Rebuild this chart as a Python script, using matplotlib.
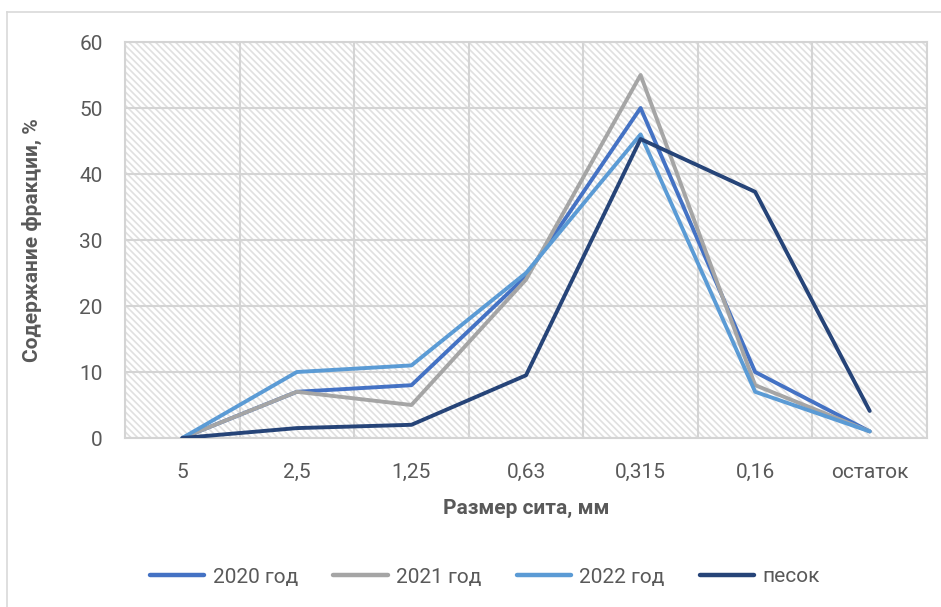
import matplotlib
matplotlib.use("Agg")
import matplotlib.pyplot as plt
from matplotlib.lines import Line2D

plt.rcParams["font.family"] = ["Roboto", "DejaVu Sans"]
plt.rcParams["hatch.linewidth"] = 1.2
plt.rcParams["hatch.color"] = "#E0E0E0"

# sieve sizes and fraction content, %
sieves = ["5", "2,5", "1,25", "0,63", "0,315", "0,16", "остаток"]
y2020 = [0, 7, 8, 24.5, 50, 10, 1]
y2021 = [0, 7, 5, 24, 55, 8, 1]
y2022 = [0, 10, 11, 25, 46, 7, 1]
sand = [0, 1.5, 2, 9.5, 45.3, 37.3, 4.1]

series = [
    ("2020 год", y2020, "#4472C4"),
    ("2021 год", y2021, "#A5A5A5"),
    ("2022 год", y2022, "#5B9BD5"),
    ("песок", sand, "#264478"),
]

TXT = "#595959"
GRID = "#D4D4D4"
W, H = 941, 607

fig = plt.figure(figsize=(W / 100, H / 100), dpi=100)
ax = fig.add_axes([125 / W, 1 - 438 / H, (927 - 125) / W, (438 - 42) / H])

# hatched plot area
ax.patch.set_facecolor("white")
ax.patch.set_hatch("\\" * 5)
ax.patch.set_edgecolor("#E0E0E0")

x = list(range(len(sieves)))
for name, vals, col in series:
    ax.plot(x, vals, color=col, lw=2.8, label=name,
            solid_capstyle="round", solid_joinstyle="round", zorder=3)

ax.set_xlim(-0.5, len(sieves) - 0.5)
ax.set_ylim(0, 60)
ax.set_yticks(range(0, 61, 10))
ax.set_xticks(x)
ax.set_xticklabels(sieves)

# vertical grid every half category, horizontal every 10
ax.set_xticks([i * 0.5 - 0.5 for i in range(2 * len(sieves) + 1)], minor=True)
ax.grid(True, which="minor", axis="x", color=GRID, lw=1.5, zorder=1)
ax.grid(True, which="major", axis="y", color=GRID, lw=1.5, zorder=1)
ax.set_axisbelow(True)

for s in ax.spines.values():
    s.set_color(GRID)
    s.set_linewidth(1.5)

ax.tick_params(axis="both", which="both", length=0, labelsize=15, labelcolor=TXT)
ax.tick_params(axis="y", pad=16)
ax.tick_params(axis="x", pad=18)

fig.text(32 / W, 1 - 240 / H, "Содержание фракции, %", rotation=90,
         ha="center", va="center", fontsize=15, fontweight="bold", color=TXT)
fig.text(526 / W, 1 - 508 / H, "Размер сита, мм",
         ha="center", va="center", fontsize=15, fontweight="bold", color=TXT)

leg = ax.legend(loc="center", bbox_to_anchor=(485 / W, 1 - 577 / H),
                bbox_transform=fig.transFigure, ncol=4, frameon=False,
                fontsize=15, labelcolor=TXT, handlelength=2.6,
                handletextpad=0.4, columnspacing=1.7)
for h in leg.legend_handles:
    h.set_linewidth(3.2)
    h.set_solid_capstyle("round")

# outer chart border (left and top visible)
fig.add_artist(Line2D([7 / W, 7 / W], [0, 1 - 12 / H], color="#D9D9D9", lw=1.2))
fig.add_artist(Line2D([7 / W, 1], [1 - 12 / H, 1 - 12 / H], color="#D9D9D9", lw=1.2))

fig.savefig("out.png", dpi=100)
